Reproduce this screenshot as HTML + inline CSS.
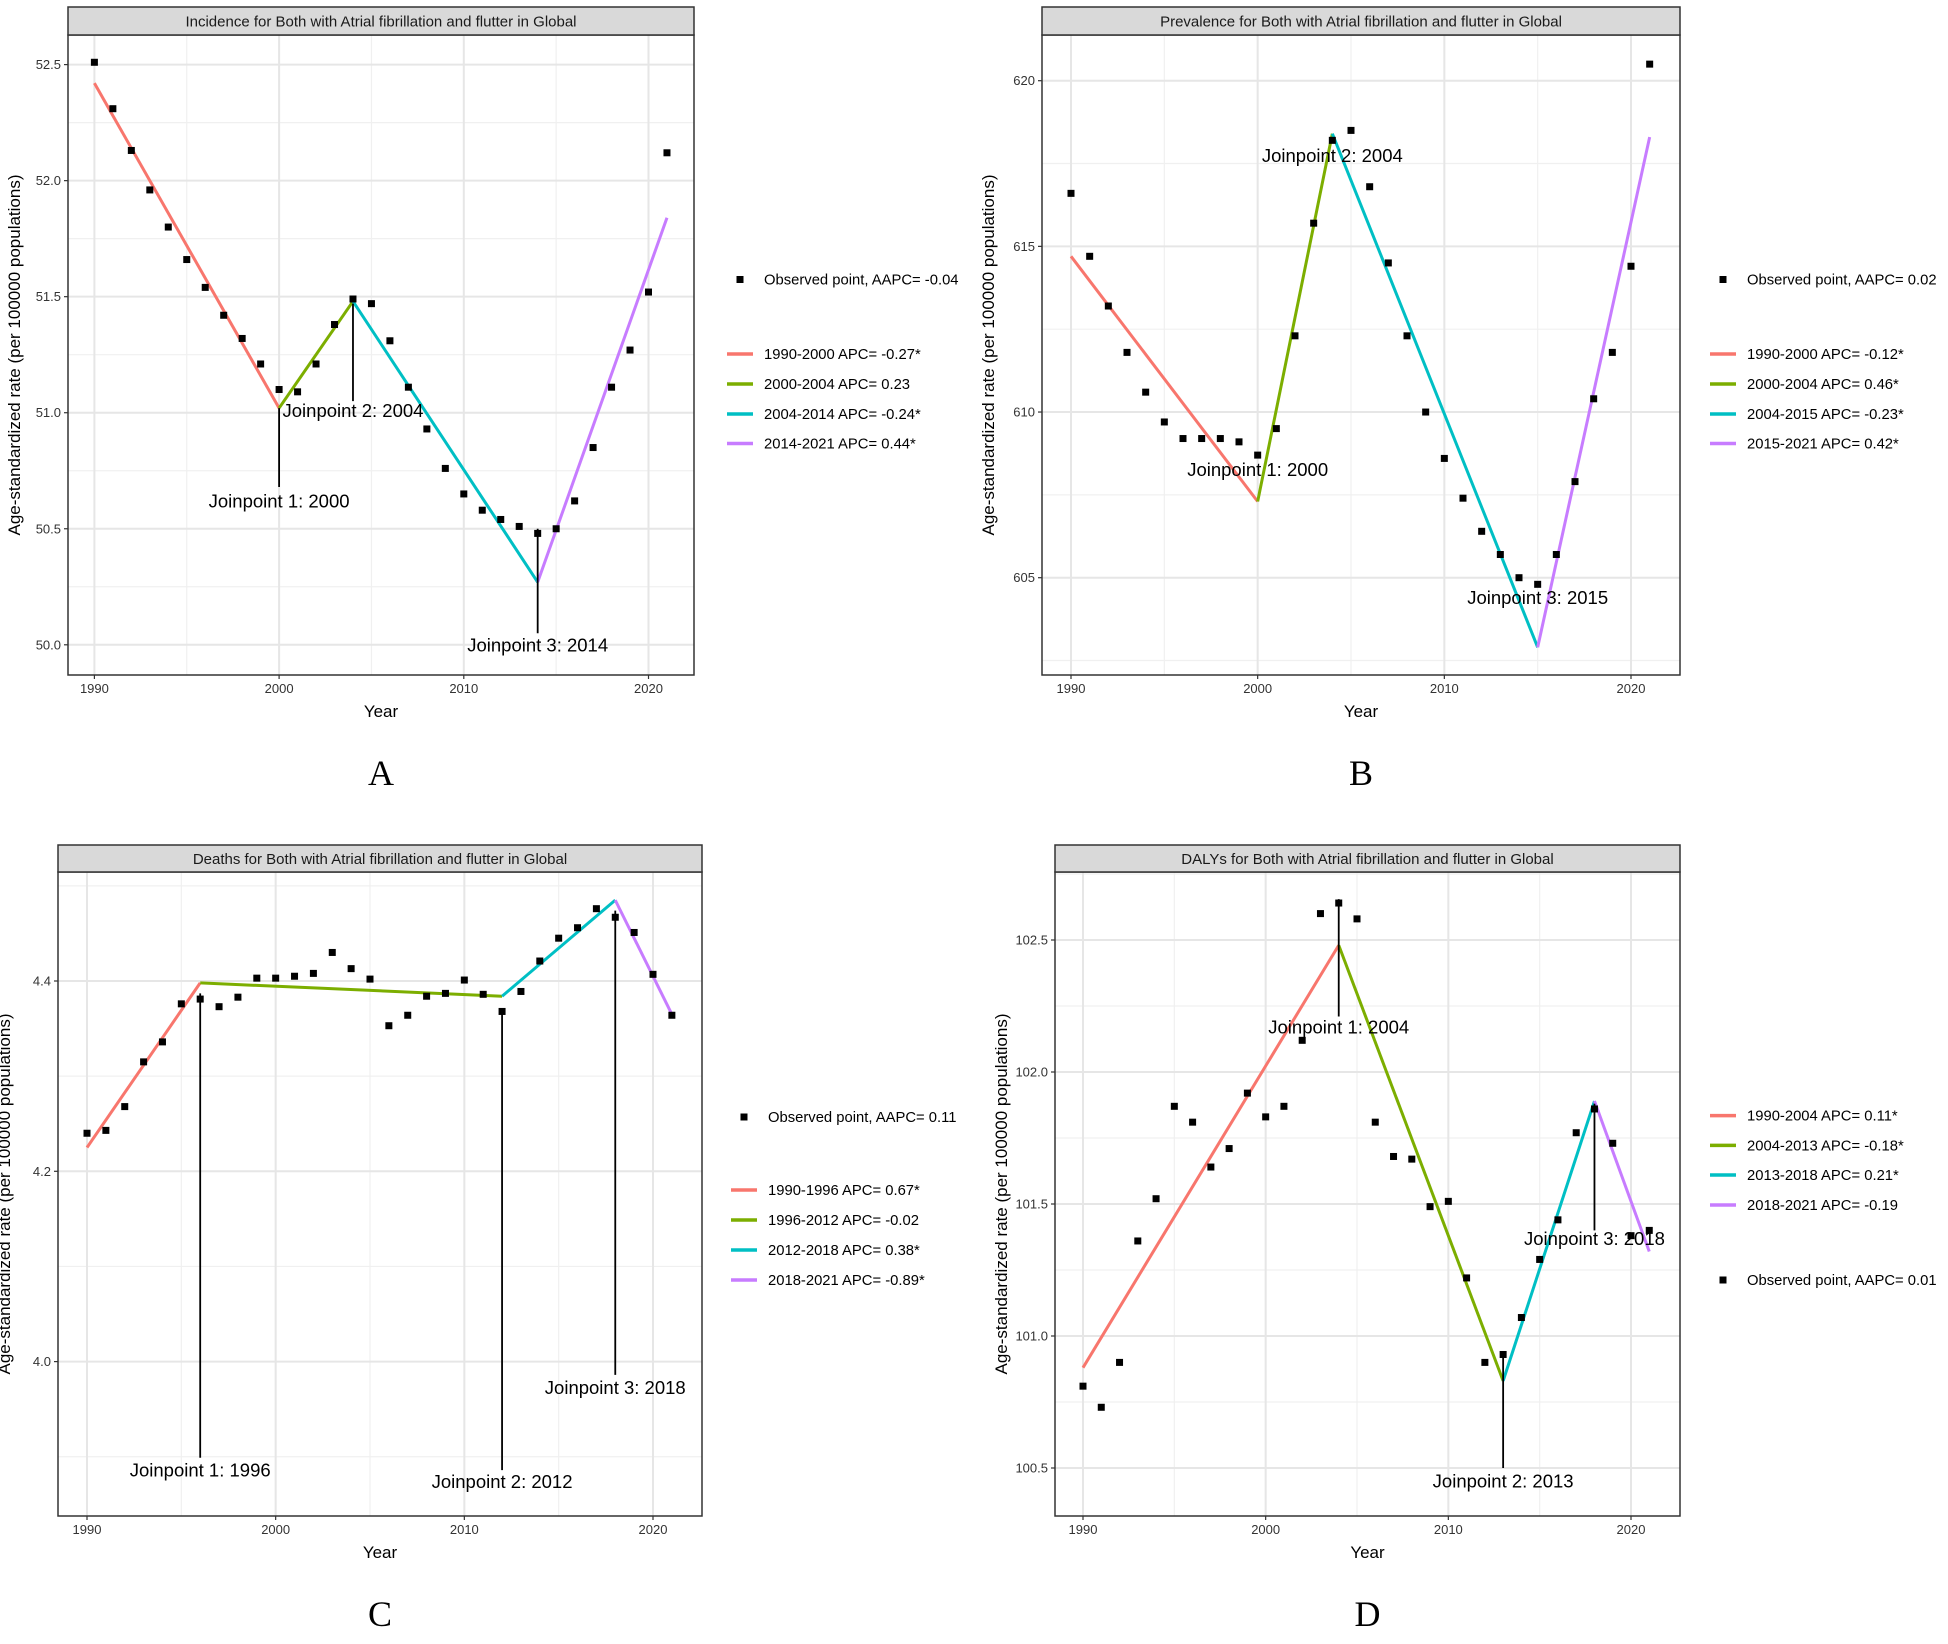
<!DOCTYPE html>
<html><head><meta charset="utf-8"><style>
body{margin:0;background:#fff}
svg{display:block;font-family:"Liberation Sans",Arial,sans-serif}
</style></head><body>
<svg id="chart" width="1948" height="1644" viewBox="0 0 1948 1644"></svg>
<script>
// ---------- DATA ----------
const years = [1990,1991,1992,1993,1994,1995,1996,1997,1998,1999,2000,2001,2002,2003,2004,2005,2006,2007,2008,2009,2010,2011,2012,2013,2014,2015,2016,2017,2018,2019,2020,2021];

const aValues = [52.51,52.31,52.13,51.96,51.80,51.66,51.54,51.42,51.32,51.21,51.10,51.09,51.21,51.38,51.49,51.47,51.31,51.11,50.93,50.76,50.65,50.58,50.54,50.51,50.48,50.50,50.62,50.85,51.11,51.27,51.52,52.12];
const aFitYears = [1990,2000,2004,2014,2021];
const aFitValues = [52.42,51.02,51.48,50.27,51.84];
const aTicks = [50.0,50.5,51.0,51.5,52.0,52.5];
const aLegend = ["1990-2000 APC= -0.27*","2000-2004 APC= 0.23","2004-2014 APC= -0.24*","2014-2021 APC= 0.44*"];
const aObserved = "Observed point, AAPC= -0.04";
const aJpYears = [2000,2004,2014];
const aJpTop = [51.02,51.47,50.50];
const aJpBottom = [50.68,51.05,50.05];
const aJpLabelY = [50.62,51.01,50.00];

const bValues = [616.6,614.7,613.2,611.8,610.6,609.7,609.2,609.2,609.2,609.1,608.7,609.5,612.3,615.7,618.2,618.5,616.8,614.5,612.3,610.0,608.6,607.4,606.4,605.7,605.0,604.8,605.7,607.9,610.4,611.8,614.4,620.5];
const bFitYears = [1990,2000,2004,2015,2021];
const bFitValues = [614.7,607.3,618.4,602.9,618.3];
const bTicks = [605,610,615,620];
const bLegend = ["1990-2000 APC= -0.12*","2000-2004 APC= 0.46*","2004-2015 APC= -0.23*","2015-2021 APC= 0.42*"];
const bObserved = "Observed point, AAPC= 0.02";
const bJpYears = [2000,2004,2015];
const bJpTop = [null,null,null];
const bJpBottom = [null,null,null];
const bJpLabelY = [608.26,617.75,604.4];

const cValues = [4.240,4.243,4.268,4.315,4.336,4.376,4.381,4.373,4.383,4.403,4.403,4.405,4.408,4.430,4.413,4.402,4.353,4.364,4.384,4.387,4.401,4.386,4.368,4.389,4.421,4.445,4.456,4.476,4.467,4.451,4.407,4.364];
const cFitYears = [1990,1996,2012,2018,2021];
const cFitValues = [4.225,4.398,4.384,4.485,4.365];
const cTicks = [4.0,4.2,4.4];
const cLegend = ["1990-1996 APC= 0.67*","1996-2012 APC= -0.02","2012-2018 APC= 0.38*","2018-2021 APC= -0.89*"];
const cObserved = "Observed point, AAPC= 0.11";
const cJpYears = [1996,2012,2018];
const cJpTop = [4.387,4.371,4.474];
const cJpBottom = [3.899,3.886,3.986];
const cJpLabelY = [3.886,3.874,3.973];

const dValues = [100.81,100.73,100.90,101.36,101.52,101.87,101.81,101.64,101.71,101.92,101.83,101.87,102.12,102.60,102.64,102.58,101.81,101.68,101.67,101.49,101.51,101.22,100.90,100.93,101.07,101.29,101.44,101.77,101.86,101.73,101.38,101.40];
const dFitYears = [1990,2004,2013,2018,2021];
const dFitValues = [100.88,102.48,100.83,101.89,101.32];
const dTicks = [100.5,101.0,101.5,102.0,102.5];
const dLegend = ["1990-2004 APC= 0.11*","2004-2013 APC= -0.18*","2013-2018 APC= 0.21*","2018-2021 APC= -0.19"];
const dObserved = "Observed point, AAPC= 0.01";
const dJpYears = [2004,2013,2018];
const dJpTop = [102.655,100.92,101.88];
const dJpBottom = [102.21,100.50,101.40];
const dJpLabelY = [102.17,100.45,101.37];

const xTicks = [1990,2000,2010,2020];
const titles = ["Incidence for Both with Atrial fibrillation and flutter in Global","Prevalence for Both with Atrial fibrillation and flutter in Global","Deaths for Both with Atrial fibrillation and flutter in Global","DALYs for Both with Atrial fibrillation and flutter in Global"];
const colors = ["#F8766D","#7CAE00","#00BFC4","#C77CFF"];

// ---------- LAYOUT ----------
const panels = [
 {id:'a',letter:'A',L:68,R:694,T:35,B:675,S:7,x1:94.4,x2:648.5,v1:52.5,p1:64.6,v2:50,p2:644.8,dec:1,vals:aValues,fy:aFitYears,fv:aFitValues,ticks:aTicks,leg:aLegend,obs:aObserved,jy:aJpYears,jt:aJpTop,jb:aJpBottom,jl:aJpLabelY,legX:740,obsY:279.5,legY:[354,384,414,443.5],title:titles[0]},
 {id:'b',letter:'B',L:1042,R:1680,T:35,B:675,S:7,x1:1071,x2:1631,v1:620,p1:80.7,v2:605,p2:577.7,dec:0,vals:bValues,fy:bFitYears,fv:bFitValues,ticks:bTicks,leg:bLegend,obs:bObserved,jy:bJpYears,jt:bJpTop,jb:bJpBottom,jl:bJpLabelY,legX:1723,obsY:279.5,legY:[354,384,414,443.5],title:titles[1]},
 {id:'c',letter:'C',L:58,R:702,T:872,B:1516,S:845,x1:87,x2:653,v1:4.4,p1:981,v2:4.0,p2:1361.6,dec:1,vals:cValues,fy:cFitYears,fv:cFitValues,ticks:cTicks,leg:cLegend,obs:cObserved,jy:cJpYears,jt:cJpTop,jb:cJpBottom,jl:cJpLabelY,legX:744,obsY:1117,legY:[1190,1220,1250,1280],title:titles[2]},
 {id:'d',letter:'D',L:1055,R:1680,T:872,B:1516,S:845,x1:1083,x2:1631,v1:102.5,p1:940,v2:100.5,p2:1468,dec:1,vals:dValues,fy:dFitYears,fv:dFitValues,ticks:dTicks,leg:dLegend,obs:dObserved,jy:dJpYears,jt:dJpTop,jb:dJpBottom,jl:dJpLabelY,legX:1723,obsY:1280,legY:[1115.6,1145.4,1175,1205],title:titles[3]}
];

const NS="http://www.w3.org/2000/svg";
const svg=document.getElementById('chart');
function mk(tag,attrs,parent){const e=document.createElementNS(NS,tag);for(const k in attrs)e.setAttribute(k,attrs[k]);(parent||svg).appendChild(e);return e;}

panels.forEach(p=>{
  const g=mk('g',{});
  
  
  const X=y=>p.x1+(y-1990)*(p.x2-p.x1)/30;
  const Y=v=>p.p2+(v-p.v2)*(p.p1-p.p2)/(p.v1-p.v2);
  const yr0=1990+(p.L-p.x1)*30/(p.x2-p.x1), yr1=1990+(p.R-p.x1)*30/(p.x2-p.x1);
  const vLo=p.v2+(p.B-p.p2)*(p.v1-p.v2)/(p.p1-p.p2), vHi=p.v2+(p.T-p.p2)*(p.v1-p.v2)/(p.p1-p.p2);
  const step=p.ticks[1]-p.ticks[0];
  for(let v=p.ticks[0]-step*1.5; v<vHi+step; v+=step){ if(v>vLo&&v<vHi){const l=mk('line',{x1:p.L,x2:p.R,y1:Y(v),y2:Y(v),stroke:'#F0F0F0','stroke-width':1.2},g);}}
  for(let yr=1985; yr<=2025; yr+=10){ if(yr>yr0&&yr<yr1){const l=mk('line',{x1:X(yr),x2:X(yr),y1:p.T,y2:p.B,stroke:'#F0F0F0','stroke-width':1.2},g);}}
  p.ticks.forEach(v=>{
    const l=mk('line',{x1:p.L,x2:p.R,y1:Y(v),y2:Y(v),stroke:'#E6E6E6','stroke-width':2},g);
    
    
    mk('line',{x1:p.L-4,x2:p.L,y1:Y(v),y2:Y(v),stroke:'#333','stroke-width':1.2},g);
    const t=mk('text',{x:p.L-7,y:Y(v)+4.5,'text-anchor':'end','font-size':13,fill:'#333'},g);
    t.textContent=v.toFixed(p.dec);
    
    
  });
  xTicks.forEach(yr=>{
    const l=mk('line',{x1:X(yr),x2:X(yr),y1:p.T,y2:p.B,stroke:'#E6E6E6','stroke-width':2},g);
    
    
    mk('line',{x1:X(yr),x2:X(yr),y1:p.B,y2:p.B+4,stroke:'#333','stroke-width':1.2},g);
    const t=mk('text',{x:X(yr),y:p.B+18,'text-anchor':'middle','font-size':13,fill:'#333'},g);
    t.textContent=yr;
    
    
  });
  for(let i=0;i<p.fy.length-1;i++){
    const l=mk('line',{x1:X(p.fy[i]),y1:Y(p.fv[i]),x2:X(p.fy[i+1]),y2:Y(p.fv[i+1]),stroke:colors[i],'stroke-width':3},g);
    
    
  }
  p.vals.forEach((v,i)=>{
    const r=mk('rect',{x:X(years[i])-3.5,y:Y(v)-3.5,width:7,height:7,fill:'#000'},g);
    
    
  });
  p.jy.forEach((yr,i)=>{
    if(p.jt[i]!==null){
      const l=mk('line',{x1:X(yr),x2:X(yr),y1:Y(p.jt[i]),y2:Y(p.jb[i]),stroke:'#000','stroke-width':1.8},g);
      
      
    }
    const t=mk('text',{x:X(yr),y:Y(p.jl[i])+6.5,'text-anchor':'middle','font-size':18.5,fill:'#000'},g);
    t.textContent='Joinpoint '+(i+1)+': '+yr;
    
    
  });
  mk('rect',{x:p.L,y:p.T,width:p.R-p.L,height:p.B-p.T,fill:'none',stroke:'#333','stroke-width':1.5},g);
  const s=mk('rect',{x:p.L,y:p.S,width:p.R-p.L,height:p.T-p.S,fill:'#D9D9D9',stroke:'#333','stroke-width':1.5},g);
  
  
  const st=mk('text',{x:(p.L+p.R)/2,y:(p.S+p.T)/2+5.5,'text-anchor':'middle','font-size':15,fill:'#1a1a1a'},g);
  st.textContent=p.title;
  
  
  const xt=mk('text',{x:(p.L+p.R)/2,y:p.B+42,'text-anchor':'middle','font-size':17,fill:'#000'},g);
  xt.textContent='Year';
  
  
  const cy=(p.T+p.B)/2, cx=p.L-48;
  const yt=mk('text',{x:cx,y:cy,'text-anchor':'middle','font-size':17,fill:'#000',transform:`rotate(-90 ${cx} ${cy})`},g);
  yt.textContent='Age-standardized rate (per 100000 populations)';
  
  
  const lt=mk('text',{x:(p.L+p.R)/2,y:p.B+110,'text-anchor':'middle','font-size':36,fill:'#000','font-family':'"Liberation Serif",serif'},g);
  lt.textContent=p.letter;
  
  
  const om=mk('rect',{x:p.legX-3.5,y:p.obsY-3.5,width:7,height:7,fill:'#000'},g);
  
  
  const ot=mk('text',{x:p.legX+24,y:p.obsY+5,'font-size':14.8,fill:'#000'},g);
  ot.textContent=p.obs;
  
  
  p.leg.forEach((s2,i)=>{
    const l=mk('line',{x1:p.legX-13,x2:p.legX+13,y1:p.legY[i],y2:p.legY[i],stroke:colors[i],'stroke-width':3.5},g);
    
    
    const t=mk('text',{x:p.legX+24,y:p.legY[i]+5,'font-size':14.8,fill:'#000'},g);
    t.textContent=s2;
    
    
  });
});
</script>
</body></html>
